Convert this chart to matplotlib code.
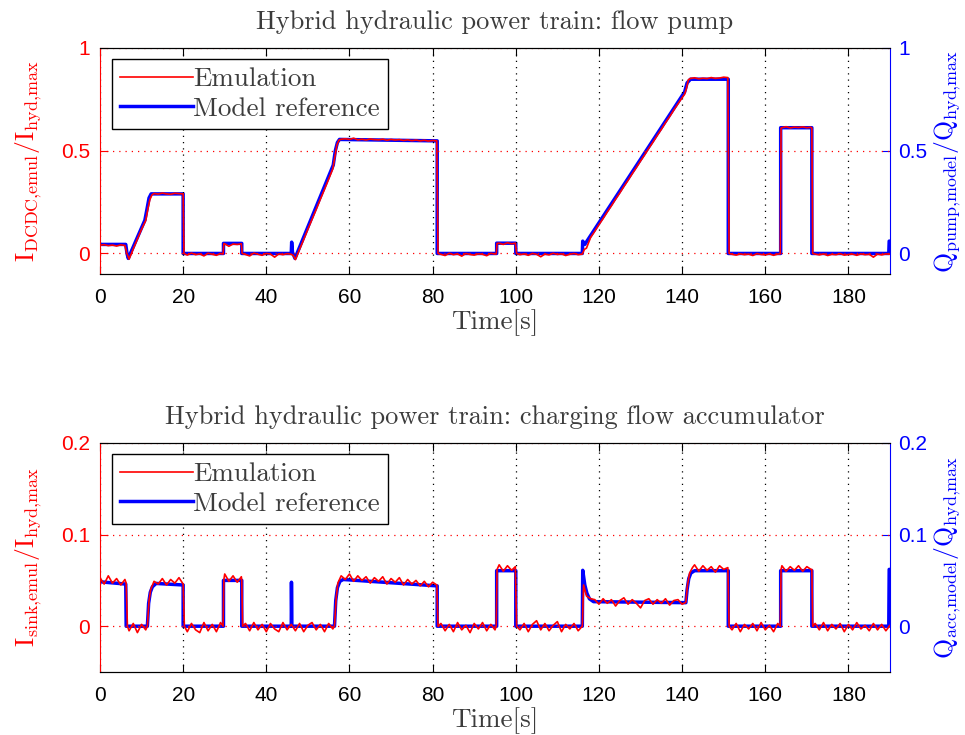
import numpy as np
import matplotlib
matplotlib.use("Agg")
import matplotlib.pyplot as plt

plt.rcParams['mathtext.fontset'] = 'cm'
plt.rcParams['font.family'] = 'Liberation Sans'

# ---- flow pump: model reference (breakpoints) ----
pump_model_t = [0, 6.2, 6.5, 6.8, 10.8, 11.3, 11.8, 12.3, 20.0, 20.0, 29.7, 29.7,
                34.1, 34.1, 46.0, 46.1, 46.3, 46.9, 56.1, 56.6, 57.1, 57.6, 81.1, 81.1,
                95.4, 95.4, 100.0, 100.0, 116.0, 116.1, 116.6, 140.6, 141.2, 142.0,
                151.1, 151.1, 163.7, 163.7, 171.2, 171.2, 189.7, 189.8, 190]
pump_model = [0.044, 0.044, 0.0, -0.024, 0.162, 0.215, 0.270, 0.290, 0.290, 0.0, 0.0, 0.049,
              0.049, 0.0, 0.0, 0.055, 0.005, -0.024, 0.43, 0.50, 0.54, 0.555, 0.548, 0.0,
              0.0, 0.05, 0.05, 0.0, 0.0, 0.06, 0.044, 0.786, 0.83, 0.848,
              0.848, 0.0, 0.0, 0.612, 0.612, 0.0, 0.0, 0.06, 0.06]

# ---- flow pump: emulation (measured) ----
pump_emul_t = ([0, 1, 2, 3, 4, 5, 6, 6.4, 7, 8, 9, 10, 11, 11.5, 12, 12.5, 13, 14, 15, 16,
                17, 18, 19, 20.0, 20.2, 21, 22, 23, 24, 25, 26, 27, 28, 29, 29.6, 29.8,
                30, 31, 32, 33, 34.0, 34.2]
               + list(range(35, 47)) + [46.5, 47, 48, 49, 50, 51, 52, 53, 54, 55, 56, 56.5,
                                        57, 57.5, 58]
               + list(range(59, 81)) + [81.0, 81.3] + list(range(82, 96))
               + [95.3, 95.5, 96, 97, 98, 99, 99.9, 100.2] + list(range(101, 116))
               + [116, 116.5, 117] + list(range(118, 141)) + [140.6, 141, 141.5, 142]
               + list(range(143, 151)) + [151.0, 151.3] + list(range(152, 164))
               + [163.6, 163.8] + list(range(164, 172)) + [171.2, 171.4]
               + list(range(172, 190)) + [190])
pump_emul = ([0.040, 0.043, 0.038, 0.041, 0.036, 0.042, 0.039, 0.005, -0.028, 0.022, 0.070,
              0.118, 0.160, 0.215, 0.262, 0.285, 0.292, 0.289, 0.294, 0.290, 0.288, 0.293,
              0.291, 0.290, 0.0, -0.008, 0.002, -0.006, -0.002, -0.012, 0.001, -0.004,
              -0.009, 0.000, -0.003, 0.048, 0.047, 0.035, 0.046, 0.044, 0.047, 0.0]
             + [-0.005, -0.012, 0.002, -0.004, -0.009, 0.000, -0.003, -0.018, -0.002,
                -0.006, -0.001, -0.004]
             + [-0.010, -0.030, 0.020, 0.068, 0.118, 0.166, 0.214, 0.264, 0.312, 0.362,
                0.412, 0.470, 0.530, 0.552, 0.556]
             + [0.558, 0.555, 0.561, 0.553, 0.556, 0.552, 0.557, 0.554, 0.553, 0.556, 0.551,
                0.555, 0.552, 0.554, 0.550, 0.553, 0.549, 0.552, 0.548, 0.551, 0.547, 0.550]
             + [0.548, 0.0]
             + [-0.004, -0.010, 0.001, -0.006, -0.002, -0.013, 0.000, -0.005, -0.008, -0.002,
                -0.004, -0.011, 0.001, -0.003]
             + [-0.002, 0.049, 0.050, 0.044, 0.052, 0.047, 0.050, 0.0]
             + [-0.006, -0.002, -0.009, 0.000, -0.004, -0.016, -0.003, -0.007, 0.001, -0.005,
                -0.002, -0.010, -0.004, 0.000, -0.006]
             + [-0.003, 0.020, 0.026]
             + [0.078, 0.108, 0.140, 0.170, 0.202, 0.232, 0.264, 0.294, 0.326, 0.356, 0.388,
                0.418, 0.450, 0.480, 0.512, 0.542, 0.574, 0.604, 0.636, 0.666, 0.698, 0.728,
                0.758]
             + [0.775, 0.800, 0.845, 0.852]
             + [0.855, 0.850, 0.853, 0.851, 0.856, 0.852, 0.854, 0.858]
             + [0.856, 0.0]
             + [-0.004, -0.008, -0.002, -0.006, -0.003, -0.010, -0.001, -0.005, -0.007,
                -0.002, -0.009, -0.003]
             + [-0.002, 0.610]
             + [0.612, 0.617, 0.611, 0.615, 0.613, 0.616, 0.612, 0.614]
             + [0.610, 0.0]
             + [-0.003, -0.007, -0.002, -0.010, -0.004, -0.006, -0.001, -0.008, -0.005,
                -0.003, -0.009, -0.002, -0.006, -0.004, -0.018, -0.003, -0.007, -0.002]
             + [-0.004])

# ---- charging flow accumulator: model reference (breakpoints) ----
acc_model_t = [0, 6.2, 6.3, 11.4, 11.7, 12.1, 12.6, 13.5, 20.0, 20.0, 29.7, 29.7, 34.1, 34.1,
               46.0, 46.05, 46.15, 56.4, 56.7, 57.1, 57.7, 58.5, 81.1, 81.1, 95.4, 95.4,
               100.0, 100.0, 116.0, 116.1, 116.6, 117.1, 117.7, 118.7, 140.9, 141.2, 141.6,
               142.1, 143.0, 151.1, 151.1, 163.7, 163.7, 171.2, 171.2, 189.7, 189.8, 190]
acc_model = [0.0485, 0.046, 0.0, 0.0, 0.025, 0.037, 0.043, 0.0467, 0.045, 0.0, 0.0, 0.050,
             0.050, 0.0, 0.0, 0.048, 0.0, 0.0, 0.028, 0.042, 0.049, 0.051, 0.044, 0.0, 0.0,
             0.0606, 0.0606, 0.0, 0.0, 0.061, 0.045, 0.036, 0.030, 0.0268, 0.0257, 0.040,
             0.052, 0.058, 0.0606, 0.0606, 0.0, 0.0, 0.0606, 0.0606, 0.0, 0.0, 0.062, 0.062]

# ---- charging flow accumulator: emulation (measured) ----
acc_emul_t = ([0, 1, 2, 3, 4, 5, 6, 6.3, 6.6, 7, 8, 9, 10, 11, 11.4, 11.8, 12.2, 13,
               14, 15, 16, 17, 18, 19, 20.0, 20.3] + list(range(21, 30))
              + [29.6, 29.8, 30, 31, 32, 33, 34, 34.1, 34.3] + list(range(35, 57))
              + [56.4, 56.8, 57.2, 58] + list(range(59, 81)) + [81.0, 81.3]
              + list(range(82, 96)) + [95.3, 95.5, 96, 97, 98, 99, 99.9, 100.2]
              + list(range(101, 116)) + [116, 116.3, 117, 118] + list(range(119, 141))
              + [140.9, 141.3, 141.8, 142.5] + list(range(143, 151)) + [151.0, 151.3]
              + list(range(152, 164)) + [163.6, 163.8] + list(range(164, 172))
              + [171.2, 171.4] + list(range(172, 190)) + [190])
acc_emul = ([0.053, 0.046, 0.055, 0.047, 0.052, 0.045, 0.051, 0.047, 0.0, -0.005, 0.003,
             -0.007, 0.002, -0.004, 0.000, 0.028, 0.040, 0.049, 0.046, 0.052, 0.045, 0.051,
             0.047, 0.053, 0.046, 0.0]
            + [-0.006, 0.003, -0.004, -0.007, 0.004, -0.005, 0.002, -0.006, 0.004]
            + [0.0, 0.051, 0.057, 0.049, 0.055, 0.048, 0.054, 0.050, 0.0]
            + [0.003, -0.005, 0.004, -0.004, 0.002, -0.006, 0.003, -0.003, -0.006, 0.004,
               -0.004, 0.002, -0.005, 0.003, -0.006, 0.001, 0.004, -0.004, 0.002, -0.006,
               0.003, -0.003]
            + [0.0, 0.030, 0.047, 0.055]
            + [0.051, 0.057, 0.049, 0.055, 0.050, 0.054, 0.047, 0.053, 0.049, 0.054, 0.046,
               0.052, 0.048, 0.053, 0.045, 0.051, 0.046, 0.050, 0.044, 0.049, 0.043, 0.048]
            + [0.045, 0.0]
            + [0.003, -0.005, 0.002, -0.006, 0.004, -0.004, 0.001, -0.007, 0.003, -0.003,
               0.004, -0.005, 0.002, -0.004]
            + [0.0, 0.062, 0.067, 0.060, 0.066, 0.061, 0.065, 0.0]
            + [-0.004, 0.003, -0.006, 0.002, 0.006, -0.004, 0.003, -0.005, 0.001, 0.005,
               -0.006, 0.002, -0.003, 0.003, -0.005]
            + [0.0, 0.045, 0.033, 0.030]
            + [0.029, 0.024, 0.030, 0.025, 0.029, 0.022, 0.028, 0.031, 0.024, 0.029, 0.025,
               0.020, 0.028, 0.030, 0.024, 0.029, 0.025, 0.030, 0.023, 0.028, 0.029, 0.024]
            + [0.026, 0.045, 0.058, 0.064]
            + [0.067, 0.060, 0.066, 0.061, 0.065, 0.059, 0.066, 0.062]
            + [0.064, 0.0]
            + [-0.004, 0.003, -0.006, 0.002, -0.003, 0.003, -0.005, 0.004, -0.004, 0.001,
               -0.006, 0.003]
            + [0.0, 0.062]
            + [0.066, 0.060, 0.065, 0.061, 0.066, 0.060, 0.065, 0.062]
            + [0.062, 0.0]
            + [0.003, -0.004, 0.004, -0.005, 0.002, -0.003, 0.003, -0.006, 0.002, -0.004,
               0.004, -0.003, 0.001, -0.005, 0.003, -0.004, 0.002, -0.005]
            + [0.001])

time_ticks = list(range(0, 181, 20))

serif = dict(fontfamily='cmr10')
gray = '#3c3c3c'


def panel(rect, title, emul_t, emul, model_t, model, ylim, yticks, ylabel_l, ylabel_r):
    ax = fig.add_axes(rect)
    ax.plot(emul_t, emul, color='#ff0000', lw=1.2, label='Emulation')
    ax.plot([], [], color='#0000ff', lw=2.5, label='Model reference')
    ax.set_xlim(0, 190)
    ax.set_ylim(*ylim)
    ax.set_xticks(time_ticks)
    ax.set_yticks(yticks)
    ax.set_yticklabels([f'{v:g}' for v in yticks])
    ax.xaxis.grid(True, linestyle=(0, (1, 4)), color='k', lw=0.9)
    ax.yaxis.grid(True, linestyle=(0, (1, 4)), color='r', lw=0.9)
    ax.tick_params(axis='both', direction='in', labelsize=15, length=6)
    ax.tick_params(axis='x', top=True, pad=10)
    ax.tick_params(axis='y', colors='r', pad=7)
    ax.spines['left'].set_color('r')
    ax.spines['right'].set_visible(False)
    ax.set_title(title, fontsize=19, color=gray, pad=14, **serif)
    ax.set_xlabel('Time[s]', fontsize=19.5, color=gray, labelpad=2, **serif)
    ax.set_ylabel(ylabel_l, fontsize=18.5, color='r', labelpad=12)

    ax2 = ax.twinx()
    ax2.plot(model_t, model, color='#0000ff', lw=2.5)
    ax2.set_ylim(*ylim)
    ax2.set_yticks(yticks)
    ax2.set_yticklabels([f'{v:g}' for v in yticks])
    ax2.tick_params(axis='y', direction='in', colors='#0000ff', labelsize=15, length=6,
                    pad=6)
    ax2.spines['right'].set_color('#0000ff')
    ax2.spines['left'].set_visible(False)
    ax2.set_ylabel(ylabel_r, fontsize=18.5, color='#0000ff', labelpad=3)

    leg = ax.legend(loc='upper left', bbox_to_anchor=(0.015, 0.951), fancybox=False,
                    edgecolor='k', framealpha=1, handlelength=2.7, handletextpad=0.0,
                    borderpad=0.3, labelspacing=0.2, borderaxespad=0,
                    prop={'family': 'cmr10', 'size': 19.5})
    leg.get_frame().set_linewidth(1.0)
    for txt in leg.get_texts():
        txt.set_color(gray)
    ax.set_zorder(ax2.get_zorder() + 1)
    ax.patch.set_visible(False)
    return ax, ax2


fig = plt.figure(figsize=(9.65, 7.35), dpi=100)

panel([0.1036, 0.6272, 0.8187, 0.3075], 'Hybrid hydraulic power train: flow pump',
      pump_emul_t, pump_emul, pump_model_t, pump_model, (-0.1, 1), [0, 0.5, 1],
      r'$\mathrm{I}_{\mathrm{DCDC{,}emul}}/\mathrm{I}_{\mathrm{hyd{,}max}}$',
      r'$\mathrm{Q}_{\mathrm{pump{,}model}}/\mathrm{Q}_{\mathrm{hyd{,}max}}$')

panel([0.1036, 0.0857, 0.8187, 0.3116],
      'Hybrid hydraulic power train: charging flow accumulator',
      acc_emul_t, acc_emul, acc_model_t, acc_model, (-0.05, 0.2), [0, 0.1, 0.2],
      r'$\mathrm{I}_{\mathrm{sink{,}emul}}/\mathrm{I}_{\mathrm{hyd{,}max}}$',
      r'$\mathrm{Q}_{\mathrm{acc{,}model}}/\mathrm{Q}_{\mathrm{hyd{,}max}}$')

fig.savefig('out.png', dpi=100)
